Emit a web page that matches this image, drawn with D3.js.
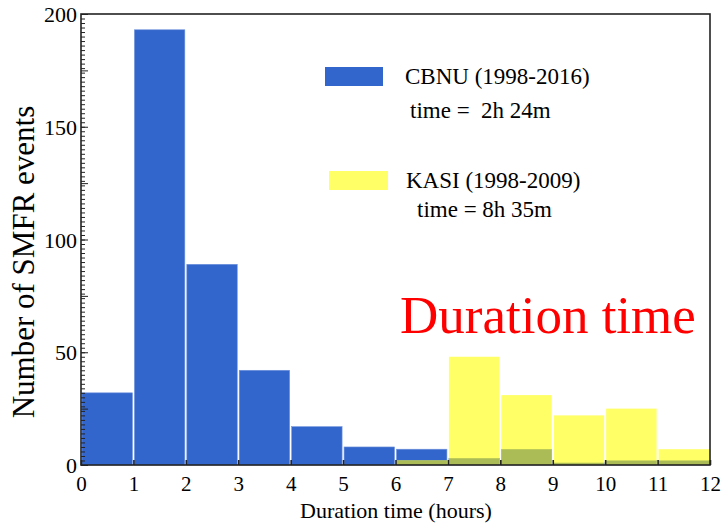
<!DOCTYPE html>
<html>
<head>
<meta charset="utf-8">
<script src="https://cdn.jsdelivr.net/npm/d3@7"></script>
<style>
  html, body { margin: 0; padding: 0; background: #fff; }
  svg { display: block; }
</style>
</head>
<body>
<svg id="chart" width="728" height="526"></svg>
<script>
// Histogram bins (hours) and event counts per bin
const binStarts = [0, 1, 2, 3, 4, 5, 6, 7, 8, 9, 10, 11];
const cbnuCounts = [32, 193, 89, 42, 17, 8, 7, 3, 7, 1, 2, 2];
const kasiCounts = [0, 0, 0, 0, 0, 0, 2, 48, 31, 22, 25, 7];
const xTicks = [0, 1, 2, 3, 4, 5, 6, 7, 8, 9, 10, 11, 12];
const yTicks = [0, 50, 100, 150, 200];

const legendItems = [
  { name: "CBNU (1998-2016)", stat: "time =  2h 24m", color: "#3366cc" },
  { name: "KASI (1998-2009)", stat: "time = 8h 35m", color: "#ffff66" }
];

const colors = { cbnu: "#3366cc", kasi: "#ffff66", overlap: "#abbc57" };
const SERIF = "'Times New Roman', Times, 'Liberation Serif', 'DejaVu Serif', serif";

const svg = d3.select("#chart").style("font-family", SERIF);
const margin = { left: 81, right: 18, top: 14, bottom: 61 };
const W = 728, H = 526;

const x = d3.scaleLinear().domain([0, 12]).range([margin.left, W - margin.right]);
const y = d3.scaleLinear().domain([0, 200]).range([H - margin.bottom, margin.top]);

const bins = binStarts.map((b, i) => ({
  x0: b, x1: b + 1, cbnu: cbnuCounts[i], kasi: kasiCounts[i]
}));

const g = svg.append("g");

// CBNU bars
g.selectAll("rect.cbnu").data(bins.filter(d => d.cbnu > 0)).join("rect")
  .attr("class", "cbnu")
  .attr("x", d => x(d.x0) + 1)
  .attr("width", d => x(d.x1) - x(d.x0) - 2)
  .attr("y", d => y(d.cbnu))
  .attr("height", d => y(0) - y(d.cbnu))
  .attr("fill", colors.cbnu)
  .attr("stroke", "#6f93dc")
  .attr("stroke-width", 0.6);

// KASI bars
g.selectAll("rect.kasi").data(bins.filter(d => d.kasi > 0)).join("rect")
  .attr("class", "kasi")
  .attr("x", d => x(d.x0) + 1)
  .attr("width", d => x(d.x1) - x(d.x0) - 2)
  .attr("y", d => y(d.kasi))
  .attr("height", d => y(0) - y(d.kasi))
  .attr("fill", colors.kasi);

// Overlap of the two histograms
g.selectAll("rect.overlap").data(bins.filter(d => d.kasi > 0 && d.cbnu > 0)).join("rect")
  .attr("class", "overlap")
  .attr("x", d => x(d.x0) + 1)
  .attr("width", d => x(d.x1) - x(d.x0) - 2)
  .attr("y", d => y(Math.min(d.cbnu, d.kasi)))
  .attr("height", d => y(0) - y(Math.min(d.cbnu, d.kasi)))
  .attr("fill", colors.overlap);

// Frame
svg.append("rect")
  .attr("x", x(0)).attr("y", y(200))
  .attr("width", x(12) - x(0)).attr("height", y(0) - y(200))
  .attr("fill", "none").attr("stroke", "#222").attr("stroke-width", 1.6);

// Y axis: minor ticks every 2, medium every 25, labels every 50
const yAxisMinor = d3.axisRight(y).tickValues(d3.range(0, 201, 2)).tickSize(4).tickFormat("");
const yAxisMid = d3.axisRight(y).tickValues(d3.range(0, 201, 25)).tickSize(7).tickFormat("");
[yAxisMinor, yAxisMid].forEach(ax => {
  const a = svg.append("g").attr("transform", `translate(${x(0)},0)`).call(ax);
  a.select(".domain").remove();
  a.selectAll("line").attr("stroke", "#222").attr("stroke-width", 1);
});
const yLab = svg.append("g").attr("transform", `translate(${x(0)},0)`)
  .call(d3.axisLeft(y).tickValues(yTicks).tickSize(0).tickPadding(4));
yLab.attr("font-family", null).style("font-family", SERIF);
yLab.select(".domain").remove();
yLab.selectAll("text")
  .style("font-family", SERIF)
  .style("font-size", "22px").attr("fill", "#000")
  .attr("dy", "0.35em");

// X axis: inward ticks at each hour
const xTickAxis = svg.append("g").attr("transform", `translate(0,${y(0)})`)
  .call(d3.axisTop(x).tickValues(xTicks).tickSize(5).tickFormat(""));
xTickAxis.select(".domain").remove();
xTickAxis.selectAll("line").attr("stroke", "#222").attr("stroke-width", 1.6);
const xLab = svg.append("g").attr("transform", `translate(0,${y(0)})`)
  .call(d3.axisBottom(x).tickValues(xTicks).tickSize(0).tickPadding(11));
xLab.attr("font-family", null).style("font-family", SERIF);
xLab.select(".domain").remove();
xLab.selectAll("text")
  .style("font-family", SERIF)
  .style("font-size", "21px").attr("fill", "#000")
  .attr("dy", "0.71em");

// Axis titles
svg.append("text")
  .attr("x", 396).attr("y", 518)
  .attr("text-anchor", "middle")
  .style("font-family", SERIF)
  .style("font-size", "22px")
  .text("Duration time (hours)");
svg.append("text")
  .attr("transform", `translate(34,${262}) rotate(-90)`)
  .attr("text-anchor", "middle")
  .style("font-family", SERIF)
  .style("font-size", "31px")
  .text("Number of SMFR events");

// Legend
const legendPos = [
  { rx: 325, ry: 67, rw: 58, tx: 405, ty: 84, sx: 410, sy: 118 },
  { rx: 329, ry: 171, rw: 59, tx: 406, ty: 188, sx: 417, sy: 217 }
];
legendItems.forEach((item, i) => {
  const p = legendPos[i];
  svg.append("rect")
    .attr("x", p.rx).attr("y", p.ry).attr("width", p.rw).attr("height", 19)
    .attr("fill", item.color);
  svg.append("text").attr("x", p.tx).attr("y", p.ty)
    .style("font-family", SERIF)
    .style("font-size", "23px").text(item.name);
  svg.append("text").attr("x", p.sx).attr("y", p.sy)
    .style("font-family", SERIF)
    .style("font-size", "23px")
    .style("white-space", "pre").text(item.stat);
});

// Annotation
svg.append("text")
  .attr("x", 400).attr("y", 333)
  .style("font-family", SERIF)
  .style("font-size", "53px").attr("fill", "#ff0000")
  .text("Duration time");
</script>
</body>
</html>
